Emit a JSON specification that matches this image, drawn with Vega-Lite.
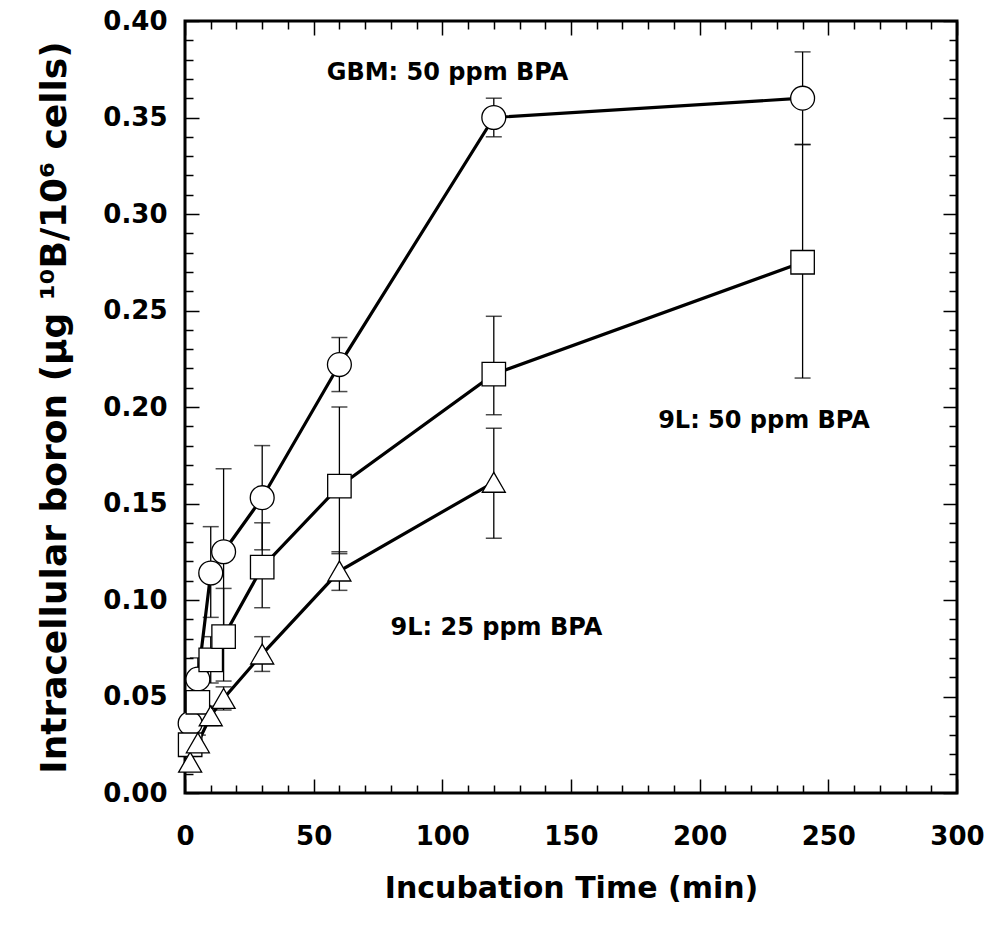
{
  "$schema": "https://vega.github.io/schema/vega-lite/v6.json",
  "width": 772,
  "height": 772,
  "autosize": "none",
  "padding": {"left": 185, "top": 21, "right": 44, "bottom": 141},
  "background": "white",
  "config": {
    "view": {"stroke": "black", "strokeWidth": 3},
    "font": "DejaVu Sans"
  },
  "datasets": {
    "pts": [
      {"series": "GBM", "t": 2, "y": 0.036, "lo": 0.032, "hi": 0.040},
      {"series": "GBM", "t": 5, "y": 0.059, "lo": 0.048, "hi": 0.070},
      {"series": "GBM", "t": 10, "y": 0.114, "lo": 0.091, "hi": 0.138},
      {"series": "GBM", "t": 15, "y": 0.125, "lo": 0.082, "hi": 0.168},
      {"series": "GBM", "t": 30, "y": 0.153, "lo": 0.126, "hi": 0.180},
      {"series": "GBM", "t": 60, "y": 0.222, "lo": 0.208, "hi": 0.236},
      {"series": "GBM", "t": 120, "y": 0.350, "lo": 0.340, "hi": 0.360},
      {"series": "GBM", "t": 240, "y": 0.360, "lo": 0.336, "hi": 0.384},
      {"series": "9L50", "t": 2, "y": 0.025, "lo": 0.020, "hi": 0.030},
      {"series": "9L50", "t": 5, "y": 0.047, "lo": 0.042, "hi": 0.052},
      {"series": "9L50", "t": 10, "y": 0.069, "lo": 0.057, "hi": 0.081},
      {"series": "9L50", "t": 15, "y": 0.081, "lo": 0.058, "hi": 0.106},
      {"series": "9L50", "t": 30, "y": 0.117, "lo": 0.096, "hi": 0.140},
      {"series": "9L50", "t": 60, "y": 0.159, "lo": 0.124, "hi": 0.200},
      {"series": "9L50", "t": 120, "y": 0.217, "lo": 0.196, "hi": 0.247},
      {"series": "9L50", "t": 240, "y": 0.275, "lo": 0.215, "hi": 0.336},
      {"series": "9L25", "t": 2, "y": 0.016, "lo": 0.013, "hi": 0.019},
      {"series": "9L25", "t": 5, "y": 0.026, "lo": 0.022, "hi": 0.030},
      {"series": "9L25", "t": 10, "y": 0.040, "lo": 0.035, "hi": 0.045},
      {"series": "9L25", "t": 15, "y": 0.049, "lo": 0.043, "hi": 0.055},
      {"series": "9L25", "t": 30, "y": 0.072, "lo": 0.063, "hi": 0.081},
      {"series": "9L25", "t": 60, "y": 0.115, "lo": 0.105, "hi": 0.125},
      {"series": "9L25", "t": 120, "y": 0.161, "lo": 0.132, "hi": 0.189}
    ],
    "labels": [
      {"text": "GBM: 50 ppm BPA", "t": 102, "y": 0.373},
      {"text": "9L: 50 ppm BPA", "t": 225, "y": 0.193},
      {"text": "9L: 25 ppm BPA", "t": 121, "y": 0.0855}
    ]
  },
  "resolve": {"axis": {"x": "independent", "y": "independent"}},
  "layer": [
    {
      "data": {"name": "pts"},
      "mark": {"type": "rule", "color": "black", "strokeWidth": 1.3},
      "encoding": {
        "x": {
          "field": "t", "type": "quantitative",
          "scale": {"domain": [0, 300], "nice": false, "zero": false},
          "axis": {
            "orient": "bottom",
            "values": [0,10,20,30,40,50,60,70,80,90,100,110,120,130,140,150,160,170,180,190,200,210,220,230,240,250,260,270,280,290,300],
            "labelExpr": "datum.value % 50 === 0 ? datum.label : ''",
            "tickSize": {"condition": {"test": "datum.value % 50 === 0", "value": -14}, "value": -8},
            "tickColor": "black", "tickWidth": 1.5,
            "domain": false, "grid": false,
            "labelFont": "DejaVu Sans", "labelFontWeight": "bold", "labelFontSize": 26,
            "labelColor": "black", "labelPadding": 44, "labelFlush": false, "labelBound": false,
            "labelOverlap": false,
            "title": "Incubation Time (min)",
            "titleFont": "DejaVu Sans", "titleFontWeight": "bold", "titleFontSize": 30,
            "titleColor": "black", "titlePadding": 18
          }
        },
        "y": {
          "field": "lo", "type": "quantitative",
          "scale": {"domain": [0, 0.4], "nice": false, "zero": false},
          "axis": {
            "orient": "left",
            "values": [0,0.01,0.02,0.03,0.04,0.05,0.06,0.07,0.08,0.09,0.1,0.11,0.12,0.13,0.14,0.15,0.16,0.17,0.18,0.19,0.2,0.21,0.22,0.23,0.24,0.25,0.26,0.27,0.28,0.29,0.3,0.31,0.32,0.33,0.34,0.35,0.36,0.37,0.38,0.39,0.4],
            "labelExpr": "round(datum.value * 100) % 5 === 0 ? format(datum.value, '.2f') : ''",
            "tickSize": {"condition": {"test": "round(datum.value * 100) % 5 === 0", "value": -14}, "value": -8},
            "tickColor": "black", "tickWidth": 1.5,
            "domain": false, "grid": false,
            "labelFont": "DejaVu Sans", "labelFontWeight": "bold", "labelFontSize": 26,
            "labelColor": "black", "labelPadding": 32, "labelFlush": false, "labelBound": false,
            "labelOverlap": false,
            "title": "Intracellular boron (µg ¹⁰B/10⁶ cells)",
            "titleFont": "DejaVu Sans", "titleFontWeight": "bold", "titleFontSize": 36,
            "titleColor": "black", "titlePadding": 29
          }
        },
        "y2": {"field": "hi"}
      }
    },
    {
      "data": {"name": "pts"},
      "transform": [{"fold": ["lo", "hi"], "as": ["k", "v"]}],
      "mark": {"type": "tick", "orient": "horizontal", "color": "black", "size": 16, "thickness": 1.5},
      "encoding": {
        "x": {
          "field": "t", "type": "quantitative",
          "axis": {
            "orient": "top",
            "values": [0,10,20,30,40,50,60,70,80,90,100,110,120,130,140,150,160,170,180,190,200,210,220,230,240,250,260,270,280,290,300],
            "labels": false,
            "tickSize": {"condition": {"test": "datum.value % 50 === 0", "value": -14}, "value": -8},
            "tickColor": "black", "tickWidth": 1.5,
            "domain": false, "grid": false, "title": null
          }
        },
        "y": {
          "field": "v", "type": "quantitative",
          "axis": {
            "orient": "right",
            "values": [0,0.01,0.02,0.03,0.04,0.05,0.06,0.07,0.08,0.09,0.1,0.11,0.12,0.13,0.14,0.15,0.16,0.17,0.18,0.19,0.2,0.21,0.22,0.23,0.24,0.25,0.26,0.27,0.28,0.29,0.3,0.31,0.32,0.33,0.34,0.35,0.36,0.37,0.38,0.39,0.4],
            "labels": false,
            "tickSize": {"condition": {"test": "round(datum.value * 100) % 5 === 0", "value": -14}, "value": -8},
            "tickColor": "black", "tickWidth": 1.5,
            "domain": false, "grid": false, "title": null
          }
        }
      }
    },
    {
      "data": {"name": "pts"},
      "mark": {"type": "line", "color": "black", "strokeWidth": 3.2},
      "encoding": {
        "x": {"field": "t", "type": "quantitative", "axis": null},
        "y": {"field": "y", "type": "quantitative", "axis": null},
        "detail": {"field": "series"}
      }
    },
    {
      "data": {"name": "pts"},
      "mark": {"type": "point", "filled": false, "fill": "white", "fillOpacity": 1, "stroke": "black", "strokeWidth": 1.3, "opacity": 1},
      "encoding": {
        "x": {"field": "t", "type": "quantitative", "axis": null},
        "y": {"field": "y", "type": "quantitative", "axis": null},
        "shape": {"field": "series", "type": "nominal", "scale": {"domain": ["GBM", "9L50", "9L25"], "range": ["circle", "square", "triangle-up"]}, "legend": null},
        "size": {"field": "series", "type": "nominal", "scale": {"domain": ["GBM", "9L50", "9L25"], "range": [570, 530, 720]}, "legend": null}
      }
    },
    {
      "data": {"name": "labels"},
      "mark": {"type": "text", "font": "DejaVu Sans", "fontWeight": "bold", "fontSize": 24, "color": "black", "align": "center", "baseline": "middle"},
      "encoding": {
        "x": {"field": "t", "type": "quantitative", "axis": null},
        "y": {"field": "y", "type": "quantitative", "axis": null},
        "text": {"field": "text"}
      }
    }
  ]
}
